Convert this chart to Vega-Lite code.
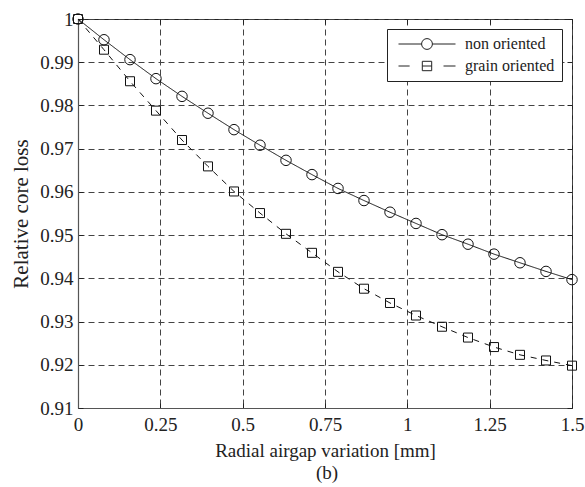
{
  "$schema": "https://vega.github.io/schema/vega-lite/v6.json",
  "autosize": {"type": "none"},
  "width": 494,
  "height": 389,
  "padding": {"left": 78, "top": 19, "right": 13, "bottom": 79},
  "background": "white",
  "config": {
    "font": "Liberation Serif",
    "view": {"stroke": "#222", "strokeWidth": 1},
    "axis": {
      "labelFont": "Liberation Serif", "titleFont": "Liberation Serif",
      "labelColor": "#222", "titleColor": "#222",
      "labelFontSize": 19, "titleFontSize": 19, "titleFontWeight": "normal",
      "domainColor": "#555", "domainWidth": 1.2,
      "tickColor": "#222", "tickSize": -5,
      "gridColor": "#444", "gridDash": [6, 4], "gridWidth": 1, "gridOpacity": 1
    }
  },
  "title": {"text": "(b)", "orient": "bottom", "anchor": "middle", "font": "Liberation Serif", "fontSize": 19, "fontWeight": "normal", "color": "#222", "offset": 4, "dx": 2},
  "data": {"values": [
    {"x": 0, "y": 1.0, "series": "non oriented"},
    {"x": 0.0789, "y": 0.9952, "series": "non oriented"},
    {"x": 0.1579, "y": 0.9906, "series": "non oriented"},
    {"x": 0.2368, "y": 0.9862, "series": "non oriented"},
    {"x": 0.3158, "y": 0.9821, "series": "non oriented"},
    {"x": 0.3947, "y": 0.9782, "series": "non oriented"},
    {"x": 0.4737, "y": 0.9744, "series": "non oriented"},
    {"x": 0.5526, "y": 0.9708, "series": "non oriented"},
    {"x": 0.6316, "y": 0.9673, "series": "non oriented"},
    {"x": 0.7105, "y": 0.964, "series": "non oriented"},
    {"x": 0.7895, "y": 0.9608, "series": "non oriented"},
    {"x": 0.8684, "y": 0.958, "series": "non oriented"},
    {"x": 0.9474, "y": 0.9553, "series": "non oriented"},
    {"x": 1.0263, "y": 0.9527, "series": "non oriented"},
    {"x": 1.1053, "y": 0.9501, "series": "non oriented"},
    {"x": 1.1842, "y": 0.9479, "series": "non oriented"},
    {"x": 1.2632, "y": 0.9456, "series": "non oriented"},
    {"x": 1.3421, "y": 0.9436, "series": "non oriented"},
    {"x": 1.4211, "y": 0.9416, "series": "non oriented"},
    {"x": 1.5, "y": 0.9397, "series": "non oriented"},
    {"x": 0, "y": 1.0, "series": "grain oriented"},
    {"x": 0.0789, "y": 0.9929, "series": "grain oriented"},
    {"x": 0.1579, "y": 0.9856, "series": "grain oriented"},
    {"x": 0.2368, "y": 0.9788, "series": "grain oriented"},
    {"x": 0.3158, "y": 0.972, "series": "grain oriented"},
    {"x": 0.3947, "y": 0.9659, "series": "grain oriented"},
    {"x": 0.4737, "y": 0.9601, "series": "grain oriented"},
    {"x": 0.5526, "y": 0.9551, "series": "grain oriented"},
    {"x": 0.6316, "y": 0.9503, "series": "grain oriented"},
    {"x": 0.7105, "y": 0.9459, "series": "grain oriented"},
    {"x": 0.7895, "y": 0.9415, "series": "grain oriented"},
    {"x": 0.8684, "y": 0.9376, "series": "grain oriented"},
    {"x": 0.9474, "y": 0.9343, "series": "grain oriented"},
    {"x": 1.0263, "y": 0.9314, "series": "grain oriented"},
    {"x": 1.1053, "y": 0.9288, "series": "grain oriented"},
    {"x": 1.1842, "y": 0.9263, "series": "grain oriented"},
    {"x": 1.2632, "y": 0.9241, "series": "grain oriented"},
    {"x": 1.3421, "y": 0.9223, "series": "grain oriented"},
    {"x": 1.4211, "y": 0.921, "series": "grain oriented"},
    {"x": 1.5, "y": 0.9198, "series": "grain oriented"}
  ]},
  "resolve": {"axis": {"x": "independent", "y": "independent"}, "scale": {"shape": "independent"}},
  "layer": [
    {
      "mark": {"type": "line", "color": "#111", "strokeWidth": 1},
      "encoding": {
        "x": {"field": "x", "type": "quantitative",
          "scale": {"domain": [0, 1.5], "nice": false, "zero": false},
          "axis": {"title": "Radial airgap variation [mm]", "values": [0, 0.25, 0.5, 0.75, 1, 1.25, 1.5], "format": ".2~f", "labelPadding": 12, "titlePadding": 7, "labelFlush": false}},
        "y": {"field": "y", "type": "quantitative",
          "scale": {"domain": [0.91, 1.0], "nice": false, "zero": false},
          "axis": {"title": "Relative core loss", "titleFontSize": 21, "values": [0.91, 0.92, 0.93, 0.94, 0.95, 0.96, 0.97, 0.98, 0.99, 1.0], "format": ".2~f", "labelPadding": 10, "titlePadding": 8, "labelFlush": false}},
        "strokeDash": {"field": "series", "type": "nominal",
          "scale": {"domain": ["non oriented", "grain oriented"], "range": [[1, 0], [6, 6]]},
          "legend": null}
      }
    },
    {
      "mark": {"type": "point", "filled": false, "color": "#111", "strokeWidth": 1, "opacity": 1},
      "encoding": {
        "x": {"field": "x", "type": "quantitative",
          "axis": {"orient": "top", "title": null, "labels": false, "grid": false, "domain": false, "values": [0, 0.25, 0.5, 0.75, 1, 1.25, 1.5]}},
        "y": {"field": "y", "type": "quantitative",
          "axis": {"orient": "right", "title": null, "labels": false, "grid": false, "domain": false, "values": [0.91, 0.92, 0.93, 0.94, 0.95, 0.96, 0.97, 0.98, 0.99, 1.0]}},
        "shape": {"field": "series", "type": "nominal",
          "scale": {"domain": ["non oriented", "grain oriented"], "range": ["circle", "square"]},
          "legend": null},
        "size": {"field": "series", "type": "nominal",
          "scale": {"domain": ["non oriented", "grain oriented"], "range": [110, 81]},
          "legend": null}
      }
    },
    {
      "transform": [{"filter": "datum.x < -1"}],
      "mark": {"type": "point", "filled": false, "color": "#222", "strokeWidth": 1, "opacity": 1},
      "encoding": {
        "x": {"field": "x", "type": "quantitative", "axis": null},
        "y": {"field": "y", "type": "quantitative", "axis": null},
        "shape": {"field": "series", "type": "nominal",
          "scale": {"domain": ["non oriented", "grain oriented"], "range": [
            "M-1,0H-0.19M0.19,0H1M0.19,0A0.19,0.19,0,1,1,-0.19,0A0.19,0.19,0,1,1,0.19,0",
            "M-1,0H-0.61M-0.165,-0.165H0.165V0.165H-0.165ZM-0.165,0H0.165M0.58,0H1"
          ]},
          "legend": {
            "title": null, "orient": "top-right", "offset": 10,
            "padding": 7, "rowPadding": 6, "clipHeight": 16,
            "strokeColor": "#222", "fillColor": "white",
            "labelFont": "Liberation Serif", "labelFontSize": 16, "labelColor": "#222",
            "symbolSize": 3249, "symbolStrokeWidth": 1, "symbolStrokeColor": "#222",
            "symbolFillColor": "transparent", "symbolOpacity": 1,
            "symbolOffset": 4, "labelOffset": 9
          }}
      }
    }
  ]
}
